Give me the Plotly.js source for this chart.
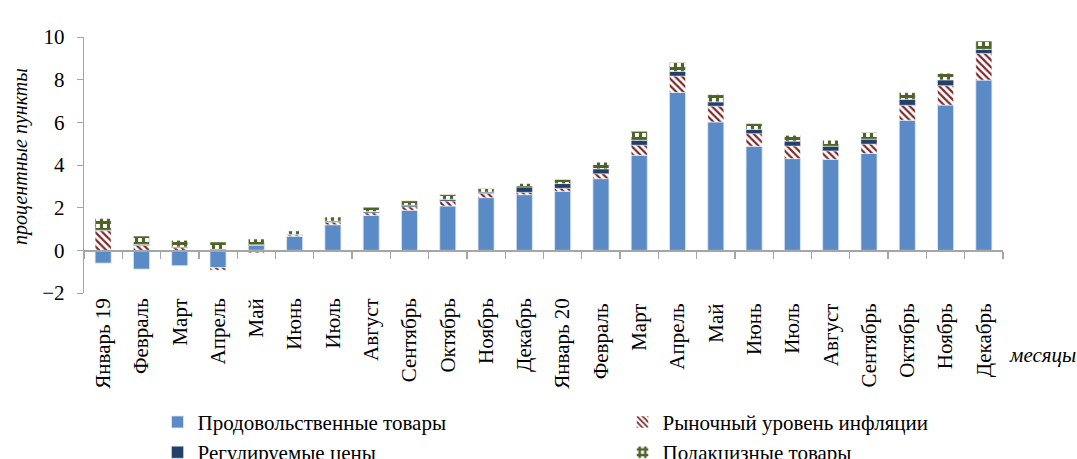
<!DOCTYPE html>
<html><head><meta charset="utf-8">
<script src="https://cdn.plot.ly/plotly-3.0.1.min.js"></script>
<style>html,body{margin:0;padding:0;background:#fff}#chart{width:1077px;height:459px}</style>
</head><body><div id="chart"></div>
<script>
const months = ["Январь 19","Февраль","Март","Апрель","Май","Июнь","Июль","Август","Сентябрь","Октябрь","Ноябрь","Декабрь",
  "Январь 20","Февраль ","Март ","Апрель ","Май ","Июнь ","Июль ","Август ","Сентябрь ","Октябрь ","Ноябрь ","Декабрь "];
const food      = [-0.60,-0.88,-0.72,-0.81, 0.23, 0.66, 1.20, 1.64, 1.88, 2.08, 2.47, 2.61, 2.77, 3.36, 4.46, 7.40, 6.02, 4.88, 4.30, 4.27, 4.54, 6.10, 6.81, 7.98];
const market    = [ 0.92, 0.23, 0.12,-0.12,-0.12, 0.06, 0.12, 0.12, 0.16, 0.23, 0.20, 0.11, 0.14, 0.23, 0.47, 0.77, 0.74, 0.59, 0.59, 0.39, 0.44, 0.70, 0.91, 1.25];
const regulated = [ 0.02, 0.05, 0.04, 0.05, 0.03, 0.03, 0.05, 0.06, 0.08, 0.08, 0.06, 0.25, 0.22, 0.23, 0.23, 0.22, 0.20, 0.20, 0.23, 0.22, 0.23, 0.28, 0.27, 0.19];
const excise    = [ 0.55, 0.39, 0.31, 0.34, 0.27, 0.16, 0.19, 0.20, 0.20, 0.22, 0.16, 0.16, 0.19, 0.31, 0.42, 0.41, 0.34, 0.27, 0.27, 0.28, 0.31, 0.31, 0.31, 0.39];
const seriesNames = ["Продовольственные товары","Рыночный уровень инфляции","Регулируемые цены","Подакцизные товары"];
const yTicks = [-2,0,2,4,6,8,10];

const idx = months.map((_, i) => i);
const serif = '"Liberation Serif", "Times New Roman", serif';
const FS = 21;
const common = {type:'bar', x: idx, width: 0.42, hoverinfo:'skip'};

const traces = [
  Object.assign({}, common, {name: seriesNames[0], y: food, legend:'legend',
    marker:{color:'#5b8bc7', line:{color:'#dfe8f3', width:0.8}}}),
  Object.assign({}, common, {name: seriesNames[1], y: market, legend:'legend2',
    marker:{color:'#ffffff', line:{color:'#ffffff', width:0.5},
      pattern:{shape:'\\', fgcolor:'#7a2a2a', bgcolor:'#ffffff', size:5, solidity:0.45}}}),
  Object.assign({}, common, {name: seriesNames[2], y: regulated, legend:'legend',
    marker:{color:'#22406a', line:{color:'#dfe8f3', width:0.5}}}),
  Object.assign({}, common, {name: seriesNames[3], y: excise, legend:'legend2',
    marker:{color:'#ffffff', line:{color:'#ffffff', width:0.5},
      pattern:{shape:'+', fgcolor:'#4f6228', bgcolor:'#ffffff', size:7, solidity:0.7}}}),
  {type:'scatter', x:[0], y:[0], xaxis:'x2', yaxis:'y', mode:'markers', marker:{opacity:0}, showlegend:false, hoverinfo:'skip'}
];

const boundaries = [];
for (let i = 0; i <= months.length; i++) boundaries.push(i - 0.5);

const legendBase = {orientation:'v', xanchor:'left', y:-0.425, yanchor:'top',
  font:{family:serif, size:FS, color:'#000'}, itemwidth:30, traceorder:'normal', tracegroupgap:0,
  bgcolor:'rgba(0,0,0,0)', borderwidth:0};

const layout = {
  width:1077, height:459,
  margin:{l:84, r:74, t:37, b:166, autoexpand:false},
  paper_bgcolor:'#fff', plot_bgcolor:'#fff',
  barmode:'relative', bargap:0.58,
  font:{family:serif, size:FS, color:'#000'},
  showlegend:true,
  legend:Object.assign({}, legendBase, {x:0.08}),
  legend2:Object.assign({}, legendBase, {x:0.586}),
  xaxis:{type:'linear', range:[-0.5, months.length-0.5], tickmode:'array', tickvals:idx, ticktext:months,
    tickangle:-90, ticks:'', showline:false, showgrid:false, zeroline:false, automargin:false,
    tickfont:{family:serif, size:FS, color:'#000'}},
  xaxis2:{overlaying:'x', anchor:'free', position:2/12, side:'bottom', type:'linear',
    range:[-0.5, months.length-0.5], tickmode:'array', tickvals:boundaries,
    ticks:'outside', ticklen:7, tickcolor:'#a6a6a6', tickwidth:1.3, automargin:false,
    showticklabels:false, showline:true, linecolor:'#a6a6a6', linewidth:1.3, showgrid:false, zeroline:false},
  yaxis:{range:[-2, 10], tickmode:'array', tickvals:yTicks, ticks:'outside', ticklen:6, tickcolor:'#a6a6a6',
    ticklabelstandoff:8,
    showline:true, linecolor:'#a6a6a6', linewidth:1.3, showgrid:false, zeroline:false, automargin:false,
    tickfont:{family:serif, size:FS, color:'#000'}},
  annotations:[
    {text:'<i>месяцы</i>', xref:'paper', yref:'paper', x:1.004, y:-0.242, xanchor:'left', yanchor:'middle',
     showarrow:false, font:{family:serif, size:FS, color:'#000'}},
    {text:'<i>процентные пункты</i>', xref:'paper', yref:'paper', x:-0.0696, y:0.531, xanchor:'center', yanchor:'middle',
     textangle:-90, showarrow:false, font:{family:serif, size:20, color:'#000'}}
  ]
};

Plotly.newPlot('chart', traces, layout, {displayModeBar:false, staticPlot:true});
</script></body></html>
